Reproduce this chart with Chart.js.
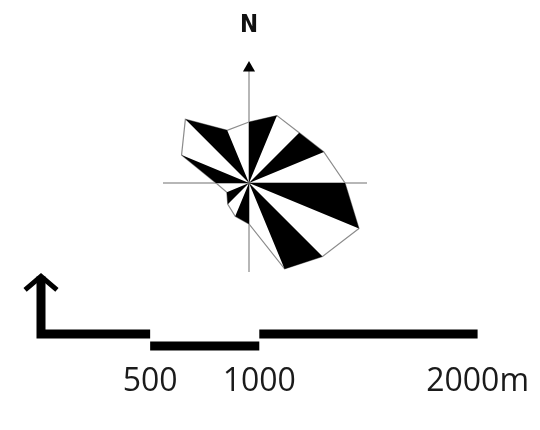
<!DOCTYPE html>
<html>
<head>
<meta charset="utf-8">
<script src="https://cdn.jsdelivr.net/npm/chart.js@4/dist/chart.umd.min.js"></script>
<style>
  html, body { margin: 0; padding: 0; background: #fff; }
  #wrap { position: relative; width: 540px; height: 430px; }
  #wrap canvas { position: absolute; left: 0; top: 0; }
</style>
</head>
<body>
<div id="wrap">
  <canvas id="rose" width="540" height="430"></canvas>
  <canvas id="scalebar" width="540" height="430"></canvas>
</div>
<script>
// 16 compass directions, clockwise from north
const directions = ["N", "NNE", "NE", "ENE", "E", "ESE", "SE", "SSE",
                    "S", "SSW", "SW", "WSW", "W", "WNW", "NW", "NNW"];
// length of each rose ray (same units as the radial scale)
const roseValues = [61, 73, 71, 81, 96, 119, 104, 93, 41, 36, 30, 24, 33, 73, 90, 57];
// length of the compass cross arms (N, E, S, W)
const crossArms = [115, 118, 89, 86];

// scale bar: break points in metres and the level of each segment
const barStops = [0, 500, 1000, 2000];
const barLevels = [0, -1, 0];
const barTicks = [500, 1000, 2000];
const barTickLabels = ["500", "1000", "2000m"];
// bent arrow at the start of the bar
const arrowTop = 4.8;
const arrowWing = [73, 3.67];

// ---------- wind rose ----------
const roseSets = [];
for (let i = 0; i < directions.length; i += 2) {
    roseSets.push({
        data: roseValues.map((v, k) => (k === i || k === i + 1) ? v : 0),
        backgroundColor: "#000",
        borderWidth: 0,
        pointRadius: 0,
        fill: "origin",
        order: 1
    });
}
roseSets.push({
    data: roseValues,
    borderColor: "#8c8c8c",
    borderWidth: 1.2,
    pointRadius: 0,
    fill: false,
    order: 2
});
const crossData = directions.map((d, k) => k % 4 === 0 ? crossArms[k / 4] : 0);
roseSets.push({
    data: crossData,
    borderColor: "#a0a0a0",
    borderWidth: 1.5,
    pointRadius: ctx => ctx.dataIndex === 0 ? 7 : 0,
    pointStyle: "triangle",
    pointBackgroundColor: "#000",
    pointBorderWidth: 0,
    fill: false,
    order: 3
});

new Chart(document.getElementById("rose"), {
    type: "radar",
    data: { labels: directions, datasets: roseSets },
    options: {
        responsive: false,
        animation: false,
        layout: { padding: { left: 119, right: 161, top: 0, bottom: 117 } },
        elements: { line: { tension: 0 } },
        plugins: {
            legend: { display: false },
            tooltip: { enabled: false },
            title: {
                display: true,
                text: "N",
                color: "#111",
                font: { family: "'Liberation Sans Narrow', 'DejaVu Sans Condensed', sans-serif", size: 24, weight: "bold" },
                padding: { top: 11, bottom: 13.2 }
            }
        },
        scales: {
            r: {
                min: 0,
                max: 130,
                ticks: { display: false },
                grid: { display: false },
                angleLines: { display: false },
                pointLabels: { display: false }
            }
        }
    }
});

// ---------- scale bar ----------
const barPoints = [{ x: barStops[0], y: arrowTop }];
for (let s = 0; s < barLevels.length; s++) {
    if (s > 0) barPoints.push({ x: barStops[s], y: null });
    barPoints.push({ x: barStops[s], y: barLevels[s] });
    barPoints.push({ x: barStops[s + 1], y: barLevels[s] });
}
const arrowPoints = [
    { x: -arrowWing[0], y: arrowWing[1] },
    { x: barStops[0], y: arrowTop },
    { x: arrowWing[0], y: arrowWing[1] }
];

new Chart(document.getElementById("scalebar"), {
    type: "scatter",
    data: {
        datasets: [
            {
                data: barPoints,
                showLine: true,
                spanGaps: false,
                borderColor: "#000",
                borderWidth: 9,
                borderCapStyle: "butt",
                borderJoinStyle: "miter",
                pointRadius: 0,
                clip: false
            },
            {
                data: arrowPoints,
                showLine: true,
                borderColor: "#000",
                borderWidth: 5,
                borderCapStyle: "butt",
                borderJoinStyle: "miter",
                pointRadius: 0,
                clip: false
            }
        ]
    },
    options: {
        responsive: false,
        animation: false,
        layout: { padding: { left: 41, right: 62, top: 274, bottom: 17.6 } },
        plugins: { legend: { display: false }, tooltip: { enabled: false } },
        scales: {
            x: {
                type: "linear",
                min: barStops[0],
                max: barStops[barStops.length - 1],
                border: { display: false },
                grid: { display: false, drawTicks: false },
                afterBuildTicks: axis => { axis.ticks = barTicks.map(v => ({ value: v })); },
                ticks: {
                    padding: 11,
                    maxRotation: 0,
                    autoSkip: false,
                    color: "#1a1a1a",
                    font: { family: "'Open Sans', sans-serif", size: 32 },
                    callback: v => barTickLabels[barTicks.indexOf(v)]
                }
            },
            y: {
                display: false,
                min: -1.5,
                max: 5
            }
        }
    }
});
</script>
</body>
</html>
